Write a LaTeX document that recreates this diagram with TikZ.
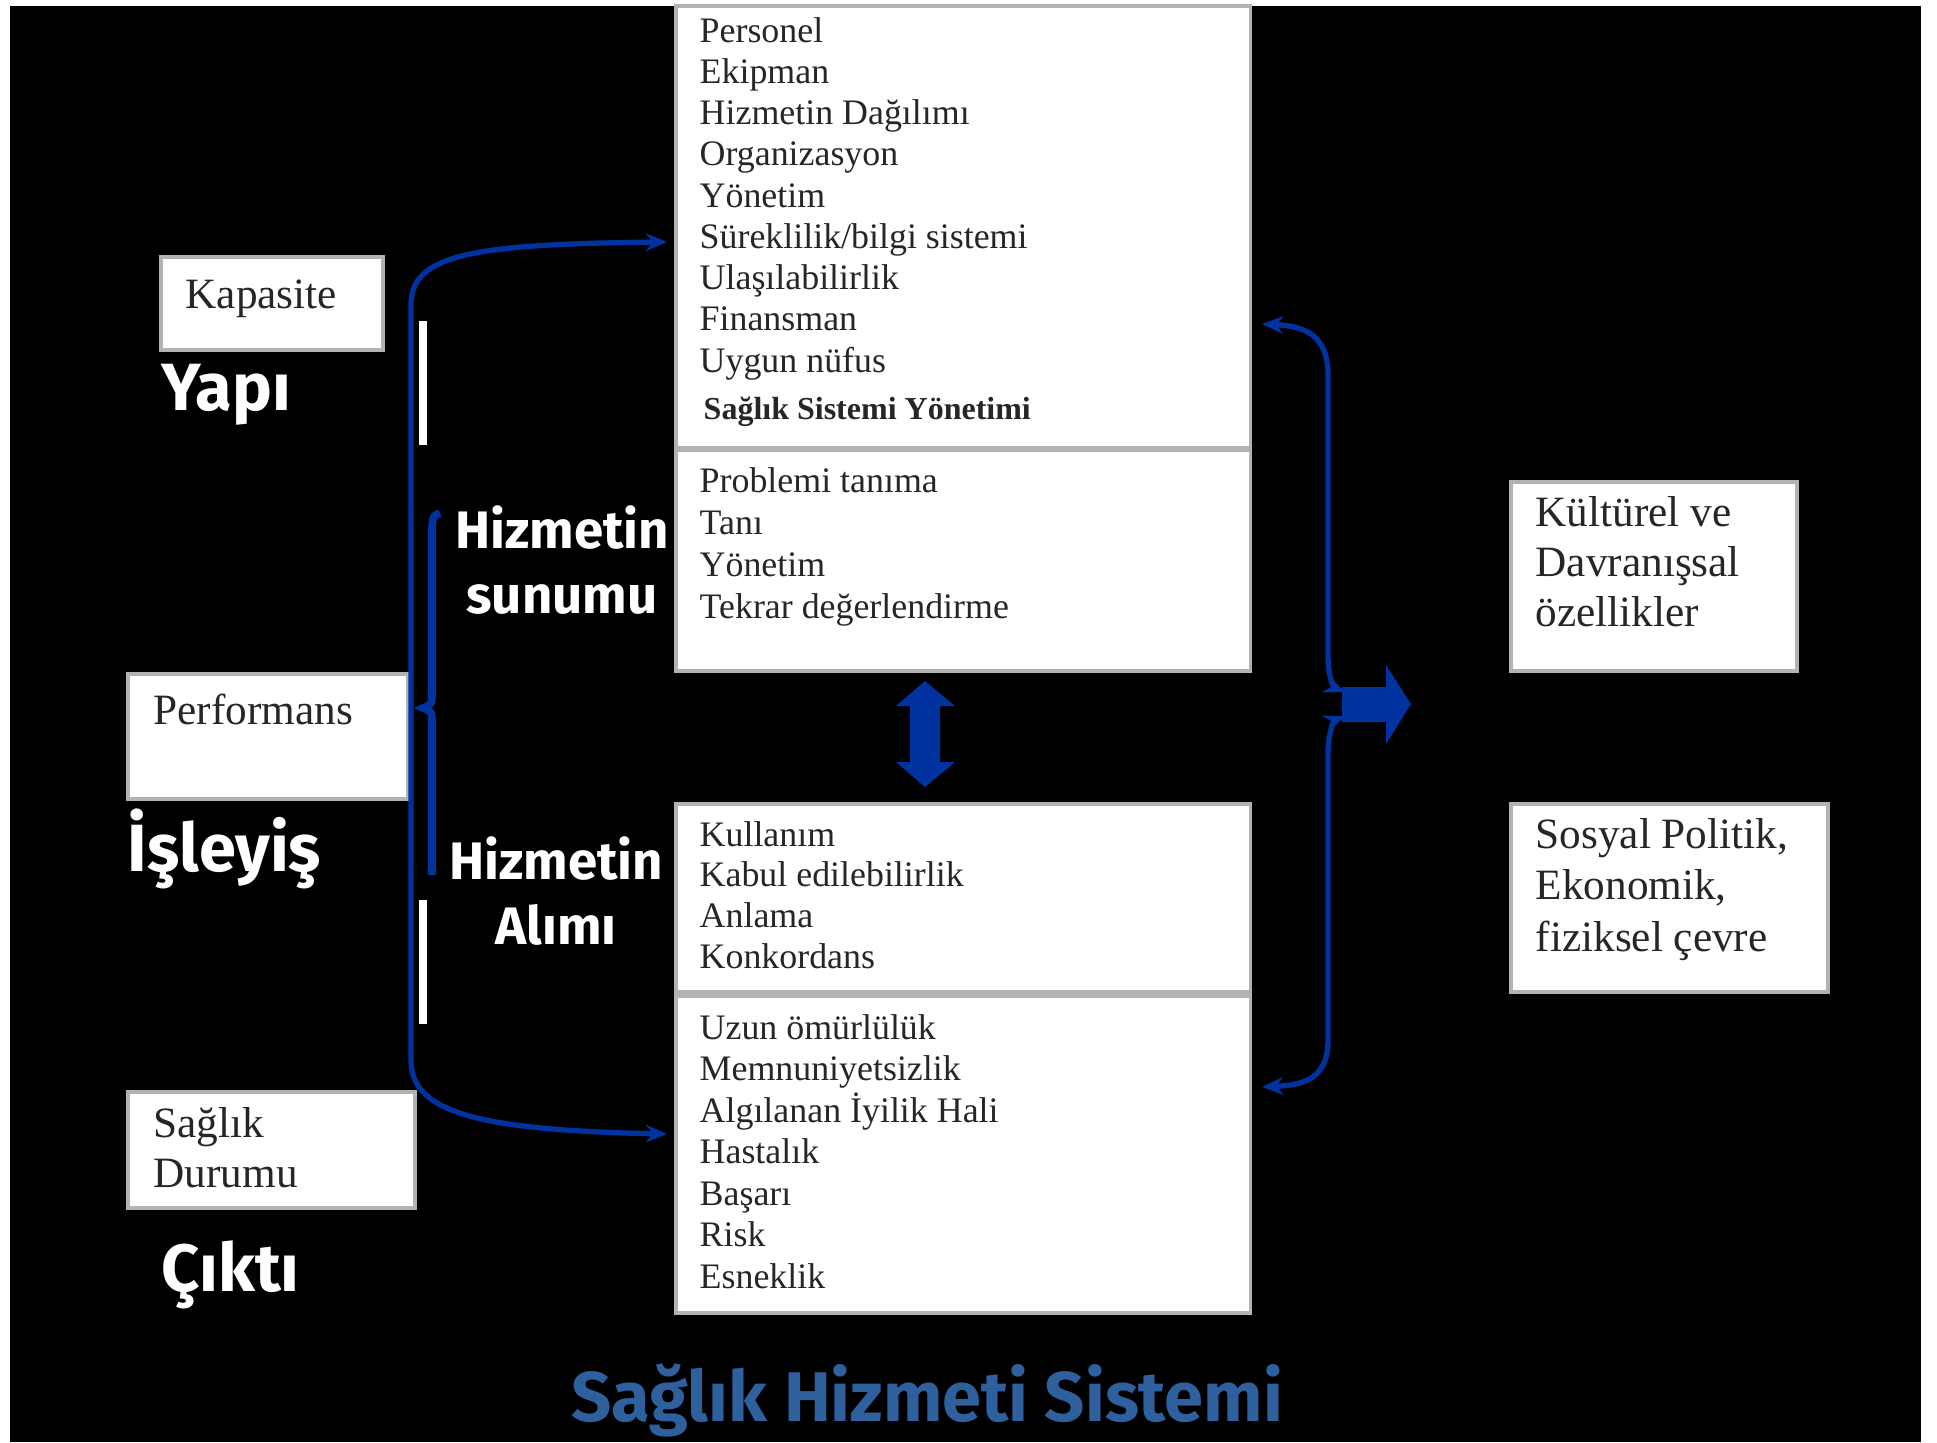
\documentclass[tikz,border=0pt]{standalone}
\usepackage{fontspec}
\setmainfont{Liberation Serif}
\newfontfamily\comicfont{Fira Sans}
\usetikzlibrary{arrows.meta,positioning}
\definecolor{linkblue}{RGB}{0,51,160}
\definecolor{titleblue}{RGB}{46,96,158}

\begin{document}
\begin{tikzpicture}[x=0.01cm, y=-0.01cm]
  \tikzset{
    panel/.style={draw=gray!60, line width=1pt, fill=white, anchor=north west,
                  inner sep=0pt, outer sep=0pt},
    item/.style={anchor=base west, inner sep=0pt, text=black!85,
                 font=\fontsize{10.2}{12}\selectfont},
    boxtext/.style={anchor=base west, inner sep=0pt, text=black!85,
                    font=\fontsize{12.3}{14}\selectfont},
    tag/.style={anchor=west, inner sep=0pt, text=white,
                font=\comicfont\bfseries\fontsize{19}{23}\selectfont},
    side/.style={align=center, inner sep=0pt, text=white,
                 font=\comicfont\bfseries\fontsize{15}{18.5}\selectfont},
    link/.style={draw=linkblue, line width=1.5pt,
                 {Stealth[length=6pt,width=5pt]}-{Stealth[length=6pt,width=5pt]}},
  }
  \useasboundingbox (0,0) rectangle (1937,1442);
  % Background
  \fill[white] (0,0) rectangle (1937,1442);
  \fill[black] (10,6) rectangle (1921,1442);

  % Middle panels
  \node[panel, minimum width=5.74cm, minimum height=4.41cm] (kaynak) at (676,6) {};
  \node[panel, minimum width=5.74cm, minimum height=2.21cm] (sunum) at (676,450) {};
  \node[panel, minimum width=5.74cm, minimum height=1.88cm] (alim) at (676,804) {};
  \node[panel, minimum width=5.74cm, minimum height=3.17cm] (sonuc) at (676,996) {};

  % Left panels
  \node[panel, minimum width=2.22cm, minimum height=0.93cm] (kapasite) at (161,257) {};
  \node[panel, minimum width=2.80cm, minimum height=1.25cm] (performans) at (128,674) {};
  \node[panel, minimum width=2.87cm, minimum height=1.16cm] (durum) at (128,1092) {};

  % Right panels
  \node[panel, minimum width=2.86cm, minimum height=1.89cm] (kultur) at (1511,482) {};
  \node[panel, minimum width=3.17cm, minimum height=1.88cm] (cevre) at (1511,804) {};

  % Lists
  \foreach \txt [count=\i from 0] in {Personel,Ekipman,Hizmetin Dağılımı,Organizasyon,%
      Yönetim,Süreklilik/bilgi sistemi,Ulaşılabilirlik,Finansman,Uygun nüfus}
    \node[item] (kaynak\i) at (699,{42+41.25*\i}) {\txt};
  \node[item, font=\bfseries\fontsize{9.1}{11}\selectfont] (ssy) at (703,419)
    {Sağlık Sistemi Yönetimi};
  \foreach \txt [count=\i from 0] in {Problemi tanıma,Tanı,Yönetim,Tekrar değerlendirme}
    \node[item] (sunum\i) at (699,{492+42*\i}) {\txt};
  \foreach \txt [count=\i from 0] in {Kullanım,Kabul edilebilirlik,Anlama,Konkordans}
    \node[item] (alim\i) at (699,{846+40.7*\i}) {\txt};
  \foreach \txt [count=\i from 0] in {Uzun ömürlülük,Memnuniyetsizlik,%
      Algılanan İyilik Hali,Hastalık,Başarı,Risk,Esneklik}
    \node[item] (sonuc\i) at (699,{1039+41.5*\i}) {\txt};

  % Panel texts
  \node[boxtext] (kapasitetxt) at (185,308) {Kapasite};
  \node[boxtext] (performanstxt) at (153,724) {Performans};
  \foreach \txt [count=\i from 0] in {Sağlık,Durumu}
    \node[boxtext] (durum\i) at (153,{1137+50*\i}) {\txt};
  \foreach \txt [count=\i from 0] in {Kültürel ve,Davranışsal,özellikler}
    \node[boxtext] (kultur\i) at (1535,{526+50*\i}) {\txt};
  \foreach \txt [count=\i from 0] in {{Sosyal Politik,},{Ekonomik,},fiziksel çevre}
    \node[boxtext] (cevre\i) at (1535,{848+51.5*\i}) {\txt};

  % Labels
  \node[tag] (yapi) at (161,395) {Yapı};
  \node[tag] (isleyis) at (127,849) {İşleyiş};
  \node[tag] (cikti) at (161,1275) {Çıktı};
  \node[side] (sunumlbl) at (562,560) {Hizmetin\\sunumu};
  \node[side] (alimlbl) at (556,891) {Hizmetin\\Alımı};
  \node[font=\comicfont\bfseries\fontsize{20}{24}\selectfont, text=titleblue]
    (baslik) at (927,1400) {Sağlık Hizmeti Sistemi};

  % White bars
  \fill[white] (419,321) rectangle (427,445);
  \fill[white] (419,900) rectangle (427,1024);

  % Left bracket
  \coordinate (ltop) at (667,242);
  \coordinate (lbot) at (667,1134);
  \draw[link] (ltop) .. controls (470,244) and (411,255) .. (411,305)
    -- (411,1060) .. controls (411,1110) and (470,1130) .. (lbot);
  \draw[linkblue, line width=2.2pt] (440,513) .. controls (433,516) .. (432,528)
    -- (432,692) .. controls (432,704) .. (423,708) .. controls (432,712) .. (432,724)
    -- (432,875);

  % Double arrow
  \fill[linkblue] (925,681) -- (955,706) -- (940,706) -- (940,762) -- (955,762)
    -- (925,787) -- (896,762) -- (910,762) -- (910,706) -- (896,706) -- cycle;

  % Right bracket
  \coordinate (rtop) at (1262,324);
  \coordinate (rbot) at (1262,1087);
  \draw[link] (rtop) .. controls (1305,326) and (1328,335) .. (1328,375)
    -- (1328,655) .. controls (1328,680) and (1335,688) .. (1345,692);
  \draw[link] (rbot) .. controls (1305,1085) and (1328,1078) .. (1328,1040)
    -- (1328,755) .. controls (1328,730) and (1335,720) .. (1345,716);
  \fill[linkblue] (1342,687) -- (1386,687) -- (1386,665) -- (1411,704) -- (1386,744)
    -- (1386,722) -- (1342,722) -- cycle;
\end{tikzpicture}
\end{document}
